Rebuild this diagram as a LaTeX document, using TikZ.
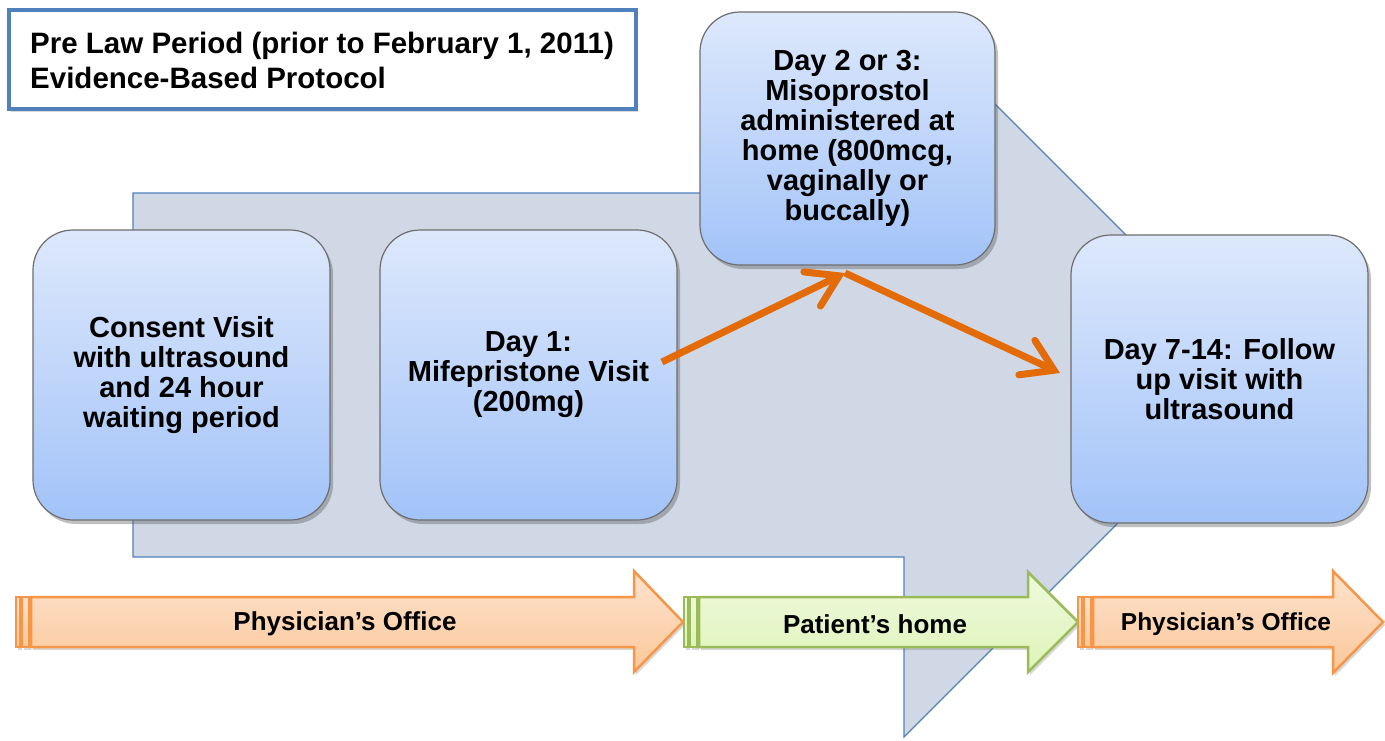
\documentclass[tikz,border=0pt]{standalone}
\usepackage{fontspec}
\setmainfont{Liberation Sans}
\usetikzlibrary{arrows.meta,shadows}
\definecolor{bigfill}{RGB}{208,216,230}
\definecolor{bigline}{RGB}{79,129,189}
\definecolor{boxtop}{RGB}{221,232,252}
\definecolor{boxbot}{RGB}{162,195,248}
\definecolor{boxline}{RGB}{110,110,110}
\definecolor{orline}{RGB}{247,150,70}
\definecolor{ortop}{RGB}{253,226,205}
\definecolor{orbot}{RGB}{251,200,154}
\definecolor{grline}{RGB}{155,187,89}
\definecolor{grtop}{RGB}{239,249,222}
\definecolor{grbot}{RGB}{222,244,184}
\definecolor{conn}{RGB}{227,108,9}
\tikzset{
  stepbox/.style={draw=boxline, line width=1.2pt, rounded corners=40pt,
    top color=boxtop, bottom color=boxbot, align=center,
    font=\bfseries\fontsize{29}{30}\selectfont,
    drop shadow={shadow xshift=3pt, shadow yshift=-4pt, opacity=0.35, fill=black!70}},
  bigarrow/.style={draw=bigline, line width=1.2pt, fill=bigfill},
  orbar/.style={draw=orline, line width=2.5pt, top color=ortop, bottom color=orbot,
    drop shadow={shadow xshift=2pt, shadow yshift=-3pt, opacity=0.25, fill=black!60}},
  grbar/.style={draw=grline, line width=2.5pt, top color=grtop, bottom color=grbot,
    drop shadow={shadow xshift=2pt, shadow yshift=-3pt, opacity=0.25, fill=black!60}},
  bartext/.style={font=\bfseries\fontsize{26}{28}\selectfont},
  connector/.style={draw=conn, line width=7pt,
    -{Straight Barb[length=30pt,width=38pt,line cap=round]}},
}
\begin{document}
\begin{tikzpicture}[x=1pt,y=-1pt]
\useasboundingbox (0,0) rectangle (1385,740);
\fill[white] (0,0) rectangle (1385,740);

% big background arrow
\draw[bigarrow] (133,193) -- (904,193) -- (904,13) -- (1266,375) -- (904,737)
  -- (904,557) -- (133,557) -- cycle;

% title box
\node[draw=bigline, line width=4pt, fill=white, minimum width=627pt, minimum height=99pt,
  drop shadow={shadow xshift=2pt, shadow yshift=-3pt, opacity=0.25, fill=black!60}]
  (title) at (322.5,59.5) {};
\node[anchor=west, align=left, font=\bfseries\fontsize{29.5}{35}\selectfont, inner sep=0pt]
  (titletext) at (30,60) {Pre Law Period (prior to February 1, 2011)\\Evidence-Based Protocol};

% bottom bars
\draw[orbar] (16,597) rectangle (20,647);
\draw[orbar] (22,597) rectangle (29,647);
\draw[orbar] (31,597) -- (634,597) -- (634,571) -- (683,622) -- (634,672) -- (634,647) -- (31,647) -- cycle;
\node[bartext] (office1) at (345,624) {Physician’s Office};

\draw[grbar] (684,597) rectangle (688,647);
\draw[grbar] (690,597) rectangle (697,647);
\draw[grbar] (699,597) -- (1028,597) -- (1028,572) -- (1078,622) -- (1028,672) -- (1028,647) -- (699,647) -- cycle;
\node[bartext] (home) at (875,624) {Patient’s home};

\draw[orbar] (1078,597) rectangle (1082,647);
\draw[orbar] (1084,597) rectangle (1091,647);
\draw[orbar] (1093,597) -- (1333,597) -- (1333,571) -- (1383,622) -- (1333,673) -- (1333,647) -- (1093,647) -- cycle;
\node[bartext, font=\bfseries\fontsize{24.5}{28}\selectfont] (office2) at (1226,624) {Physician’s Office};

% step boxes
\node[stepbox, minimum width=297pt, minimum height=290pt] (b1) at (181.5,375)
  {Consent Visit\\with ultrasound\\and 24 hour\\waiting period};
\node[stepbox, minimum width=297pt, minimum height=290pt] (b2) at (528.5,375)
  {Day 1:\\Mifepristone Visit\\(200mg)};
\node[stepbox, minimum width=295pt, minimum height=253pt] (b3) at (847.5,138.5)
  {Day 2 or 3:\\Misoprostol\\administered at\\home (800mcg,\\vaginally or\\buccally)};
\node[stepbox, minimum width=297pt, minimum height=288pt] (b4) at (1219.5,379)
  {Day 7-14: Follow\\up visit with\\ultrasound};

% connectors
\coordinate (m1) at (662,362);
\coordinate (m2) at (845,273);
\coordinate (m3) at (1060,373);
\draw[connector] (m1) -- (m2);
\draw[connector] (m2) -- (m3);
\end{tikzpicture}
\end{document}
